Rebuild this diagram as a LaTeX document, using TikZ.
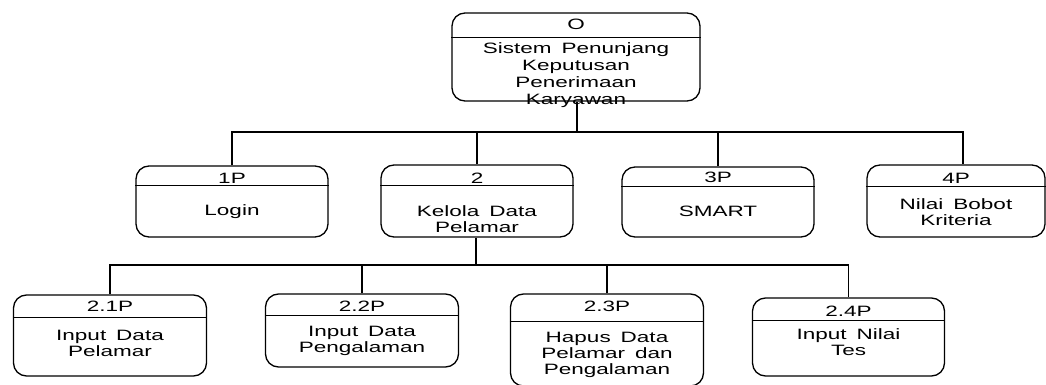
\documentclass[tikz,border=0pt]{standalone}
\usepackage{fontspec}
\setmainfont{Liberation Sans}[FakeStretch=1.5,WordSpace=1.6]
\begin{document}
\begin{tikzpicture}[x=1pt,y=-1pt,
  proc/.style={draw, line width=1.3pt, rounded corners=13pt, inner sep=0pt},
  link/.style={line width=1.3pt},
  divline/.style={line width=1.1pt},
  lbl/.style={font=\fontsize{15}{16}\selectfont, inner sep=0pt},
  body/.style={font=\fontsize{15}{16}\selectfont, align=center, inner sep=0pt},
  topbody/.style={font=\fontsize{15}{17}\selectfont, align=center, inner sep=0pt}]
\useasboundingbox (0,0) rectangle (1046,385);
\clip (0,0) rectangle (1046,385);

% top process
\node[proc, minimum width=248pt, minimum height=88pt] (top) at (576,57) {};
\draw[divline] ([yshift=-25pt]top.north west) -- ([yshift=-25pt]top.north east);
\node[lbl] (topid) at (576,24.5) {O};
\node[topbody] (toptx) at (576,75) {Sistem Penunjang\\Keputusan\\Penerimaan\\Karyawan};

% level 1
\node[proc, minimum width=192pt, minimum height=71pt] (n1) at (232,201.5) {};
\draw[divline] ([yshift=-20pt]n1.north west) -- ([yshift=-20pt]n1.north east);
\node[lbl] (n1id) at (232,178) {1P};
\node[body] (n1tx) at (232,212) {Login};

\node[proc, minimum width=192pt, minimum height=72pt] (n2) at (477,201) {};
\draw[divline] ([yshift=-21pt]n2.north west) -- ([yshift=-21pt]n2.north east);
\node[lbl] (n2id) at (477,178) {2};
\node[body] (n2tx) at (477,219.5) {Kelola Data\\Pelamar};

\node[proc, minimum width=192pt, minimum height=70pt] (n3) at (718,202) {};
\draw[divline] ([yshift=-20pt]n3.north west) -- ([yshift=-20pt]n3.north east);
\node[lbl] (n3id) at (718,177.5) {3P};
\node[body] (n3tx) at (718,211) {SMART};

\node[proc, minimum width=178pt, minimum height=72pt] (n4) at (956,201) {};
\draw[divline] ([yshift=-22pt]n4.north west) -- ([yshift=-22pt]n4.north east);
\node[lbl] (n4id) at (956,178) {4P};
\node[body] (n4tx) at (956,212.5) {Nilai Bobot\\Kriteria};

% level 2
\node[proc, minimum width=193pt, minimum height=81pt] (n21) at (110,335.5) {};
\draw[divline] ([yshift=-23pt]n21.north west) -- ([yshift=-23pt]n21.north east);
\node[lbl] (n21id) at (110,306) {2.1P};
\node[body] (n21tx) at (110,343.5) {Input Data\\Pelamar};

\node[proc, minimum width=193pt, minimum height=73pt] (n22) at (362,330.5) {};
\draw[divline] ([yshift=-22pt]n22.north west) -- ([yshift=-22pt]n22.north east);
\node[lbl] (n22id) at (362,306) {2.2P};
\node[body] (n22tx) at (362,341) {Input Data\\Pengalaman};

\node[proc, minimum width=193pt, minimum height=92pt] (n23) at (607,340) {};
\draw[divline] ([yshift=-28pt]n23.north west) -- ([yshift=-28pt]n23.north east);
\node[lbl] (n23id) at (607,306) {2.3P};
\node[body] (n23tx) at (607,355) {Hapus Data\\Pelamar dan\\Pengalaman};

\node[proc, minimum width=192pt, minimum height=78pt] (n24) at (848.5,337) {};
\draw[divline] ([yshift=-23pt]n24.north west) -- ([yshift=-23pt]n24.north east);
\node[lbl] (n24id) at (848.5,311) {2.4P};
\node[body] (n24tx) at (848.5,342.5) {Input Nilai\\Tes};

% connectors level 0 -> 1
\coordinate (bus1) at (577,132);
\draw[link] ([xshift=1pt]top.south) -- (bus1);
\draw[link] (n1.north) -- (n1.north |- bus1) -- ([xshift=7pt]n4.north |- bus1) -- ([xshift=7pt]n4.north);
\draw[link] (n2.north) -- (n2.north |- bus1);
\draw[link] (n3.north) -- (n3.north |- bus1);

% connectors level 1 -> 2
\coordinate (bus2) at (476,265);
\draw[link] ([xshift=-1pt]n2.south) -- (bus2);
\draw[link] (n21.north) -- (n21.north |- bus2) -- (n24.north |- bus2) -- (n24.north);
\draw[link] (n22.north) -- (n22.north |- bus2);
\draw[link] (n23.north) -- (n23.north |- bus2);
\end{tikzpicture}
\end{document}
